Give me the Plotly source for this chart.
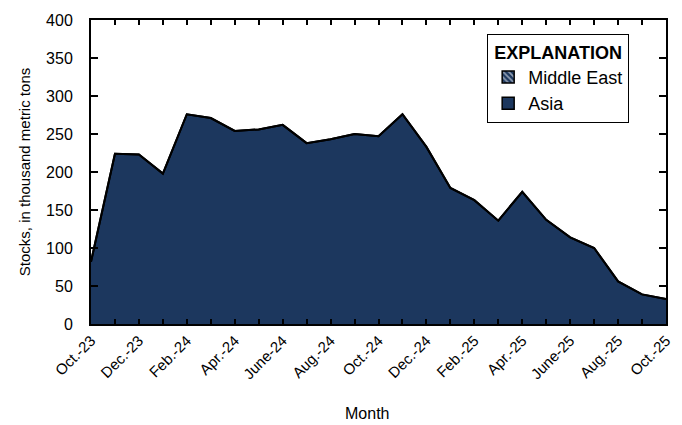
import plotly.graph_objects as go

months = ["Oct.-23", "Nov.-23", "Dec.-23", "Jan.-24", "Feb.-24", "Mar.-24", "Apr.-24",
          "May-24", "June-24", "July-24", "Aug.-24", "Sep.-24", "Oct.-24", "Nov.-24",
          "Dec.-24", "Jan.-25", "Feb.-25", "Mar.-25", "Apr.-25", "May-25", "June-25",
          "July-25", "Aug.-25", "Sep.-25", "Oct.-25"]
asia = [82, 224, 223, 198, 276, 271, 254, 256, 262, 238, 243, 250, 247, 276,
        233, 179, 163, 136, 174, 137, 114, 100, 56, 39, 33]
middle_east = [0] * 25
tick_labels = [m if i % 2 == 0 else "" for i, m in enumerate(months)]

FONT = "Liberation Sans Narrow, Arial Narrow, Liberation Sans, Arial, sans-serif"
NAVY = "#1c375e"
x = list(range(len(months)))

fig = go.Figure()
fig.add_trace(go.Scatter(
    x=x, y=asia, name="Asia", stackgroup="one", mode="lines",
    line=dict(color="black", width=2), fillcolor=NAVY, showlegend=False,
))
fig.add_trace(go.Scatter(
    x=x, y=middle_east, name="Middle East", stackgroup="one", mode="lines",
    line=dict(color="black", width=2), fillcolor=NAVY, showlegend=False,
    fillpattern=dict(shape="\\", fgcolor="white", bgcolor=NAVY, size=5, solidity=0.4),
))
# legend-only entries with square swatches
fig.add_trace(go.Bar(
    x=[None], y=[None], name="Middle East",
    marker=dict(color=NAVY, line=dict(color="black", width=1.5),
                pattern=dict(shape="\\", fgcolor="white", bgcolor=NAVY, size=5, solidity=0.45)),
))
fig.add_trace(go.Bar(
    x=[None], y=[None], name="Asia",
    marker=dict(color=NAVY, line=dict(color="black", width=1.5)),
))

fig.update_layout(
    width=682, height=425,
    margin=dict(l=83, r=24, t=12, b=109),
    paper_bgcolor="white", plot_bgcolor="white",
    font=dict(family=FONT, size=14, color="black"),
    showlegend=True,
    legend=dict(
        x=0.689, y=0.953, xanchor="left", yanchor="top",
        bordercolor="black", borderwidth=1, bgcolor="white",
        traceorder="normal",
        title=dict(text="<b>EXPLANATION</b>", side="top center",
                   font=dict(family=FONT, size=18, color="black")),
        font=dict(family=FONT, size=18, color="black"), itemwidth=30, tracegroupgap=6,
    ),
    xaxis=dict(
        range=[0, 24], tickvals=x, ticktext=tick_labels, tickangle=-45,
        tickfont=dict(family=FONT, size=15, color="black"),
        ticks="inside", ticklen=5, tickwidth=1.5, tickcolor="black",
        showline=True, linecolor="black", linewidth=2, mirror="ticks",
        showgrid=False, zeroline=False, automargin=False,
    ),
    yaxis=dict(
        range=[0, 400], dtick=50, tickfont=dict(family=FONT, size=16, color="black"),
        ticks="inside", ticklen=7, tickwidth=1.5, tickcolor="black",
        showline=True, linecolor="black", linewidth=2, mirror="ticks",
        showgrid=False, zeroline=False, automargin=False,
        ticklabelstandoff=13,
        title=dict(text="Stocks, in thousand metric tons", standoff=12,
                   font=dict(family=FONT, size=15, color="black")),
    ),
    annotations=[dict(
        text="Month", xref="paper", yref="paper", x=0.48, y=-0.296,
        xanchor="center", yanchor="middle", showarrow=False,
        font=dict(family=FONT, size=16, color="black"),
    )],
)

fig.write_html("out.html")
